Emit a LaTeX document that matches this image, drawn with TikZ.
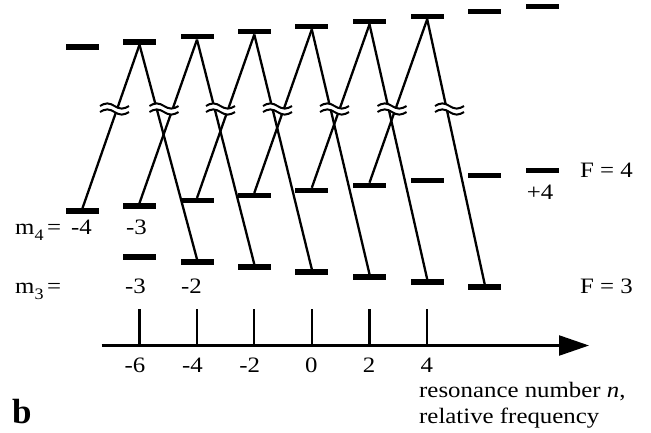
\documentclass[tikz,border=0pt]{standalone}
\usepackage{fontspec}
\setmainfont{Liberation Serif}[FakeStretch=1.13]
\newfontfamily\plainserif{Liberation Serif}
\usetikzlibrary{arrows.meta}
\tikzset{
  lev/.style={fill=black, draw=none, inner sep=0pt, minimum width=33pt, minimum height=5.2pt},
  tr/.style={line width=2.3pt},
  lbl/.style={font=\fontsize{22}{22}\selectfont, inner sep=0pt},
  brk/.pic={
    \fill[white] (-14.5,-3) sin (-7.25,-5.6) cos (0,-3) sin (7.25,-0.4) cos (14.5,-3)
      -- (14.5,3) sin (7.25,5.6) cos (0,3) sin (-7.25,0.4) cos (-14.5,3) -- cycle;
    \draw[line width=2pt] (-14.5,-3) sin (-7.25,-5.6) cos (0,-3) sin (7.25,-0.4) cos (14.5,-3);
    \draw[line width=2pt] (-14.5,3) sin (-7.25,0.4) cos (0,3) sin (7.25,5.6) cos (14.5,3);
  }
}
\begin{document}
\begin{tikzpicture}[x=1pt,y=-1pt]
\useasboundingbox (0,0) rectangle (651,432);
% upper levels (top row) and lower F=4 levels
\foreach \i/\x/\yu/\yl in {1/82.5/47/211, 2/139.5/41.9/205.9, 3/197/36.8/200.8, 4/254.3/31.7/195.7,
  5/311.8/26.6/190.6, 6/369.5/21.5/185.5, 7/427.2/16.4/180.4, 8/484.7/11.3/175.3, 9/542/6.2/170.2}
  {\node[lev] (u\i) at (\x,\yu) {}; \node[lev] (l\i) at (\x,\yl) {};}
% F=3 levels
\foreach \i/\x/\y in {2/139.5/257, 3/197/262, 4/254.3/267, 5/311.8/272, 6/369.5/277, 7/427.2/282, 8/484.7/287}
  {\node[lev] (t\i) at (\x,\y) {};}
% transitions
\foreach \a/\b/\c in {1/2/3, 2/3/4, 3/4/5, 4/5/6, 5/6/7, 6/7/8}
  {\draw[tr] (l\a.north) -- (u\b.south); \draw[tr] (u\b.south) -- (t\c.north);}
% break symbols
\foreach \x in {114.5, 164, 220.5, 277.5, 334.5, 392, 449.5}
  \pic at (\x,109) {brk};
% labels
\node[lbl, anchor=base west] (m4) at (15,234) {m\raisebox{-6pt}{\fontsize{16}{16}\selectfont 4}\,=};
\node[lbl, anchor=base east] (m4a) at (92,234) {-4};
\node[lbl, anchor=base east] (m4b) at (147,234) {-3};
\node[lbl, anchor=base west] (m3) at (15,293) {m\raisebox{-6pt}{\fontsize{16}{16}\selectfont 3}\,=};
\node[lbl, anchor=base east] (m3a) at (146,293) {-3};
\node[lbl, anchor=base east] (m3b) at (202,293) {-2};
\node[lbl, anchor=base] (p4) at (540,199) {+4};
\node[lbl, anchor=base west] (F4) at (580,177) {F = 4};
\node[lbl, anchor=base west] (F3) at (580,293) {F = 3};
% axis
\coordinate (ax0) at (101.5,345.5);
\coordinate (ax1) at (589,345.5);
\draw[tr, -{Triangle[length=30pt,width=20pt]}] (ax0) -- (ax1);
\foreach \x/\n in {139.5/-6, 197/-4, 254.3/-2, 311.8/0, 369.5/2, 427.2/4}
  {\coordinate (tk\n) at (\x,309); \coordinate (tb\n) at (\x,345.5);
   \draw[tr] (tk\n) -- (tb\n);
   \node[lbl, anchor=base east] (n\n) at (\x+6,372) {\n};}
\node[lbl, anchor=base west] (res1) at (419,397) {resonance number \textit{n},};
\node[lbl, anchor=base west] (res2) at (419,423) {relative frequency};
\node[inner sep=0pt, anchor=base west, font=\plainserif\bfseries\fontsize{35}{35}\selectfont] (b) at (12,423) {b};
\end{tikzpicture}
\end{document}
